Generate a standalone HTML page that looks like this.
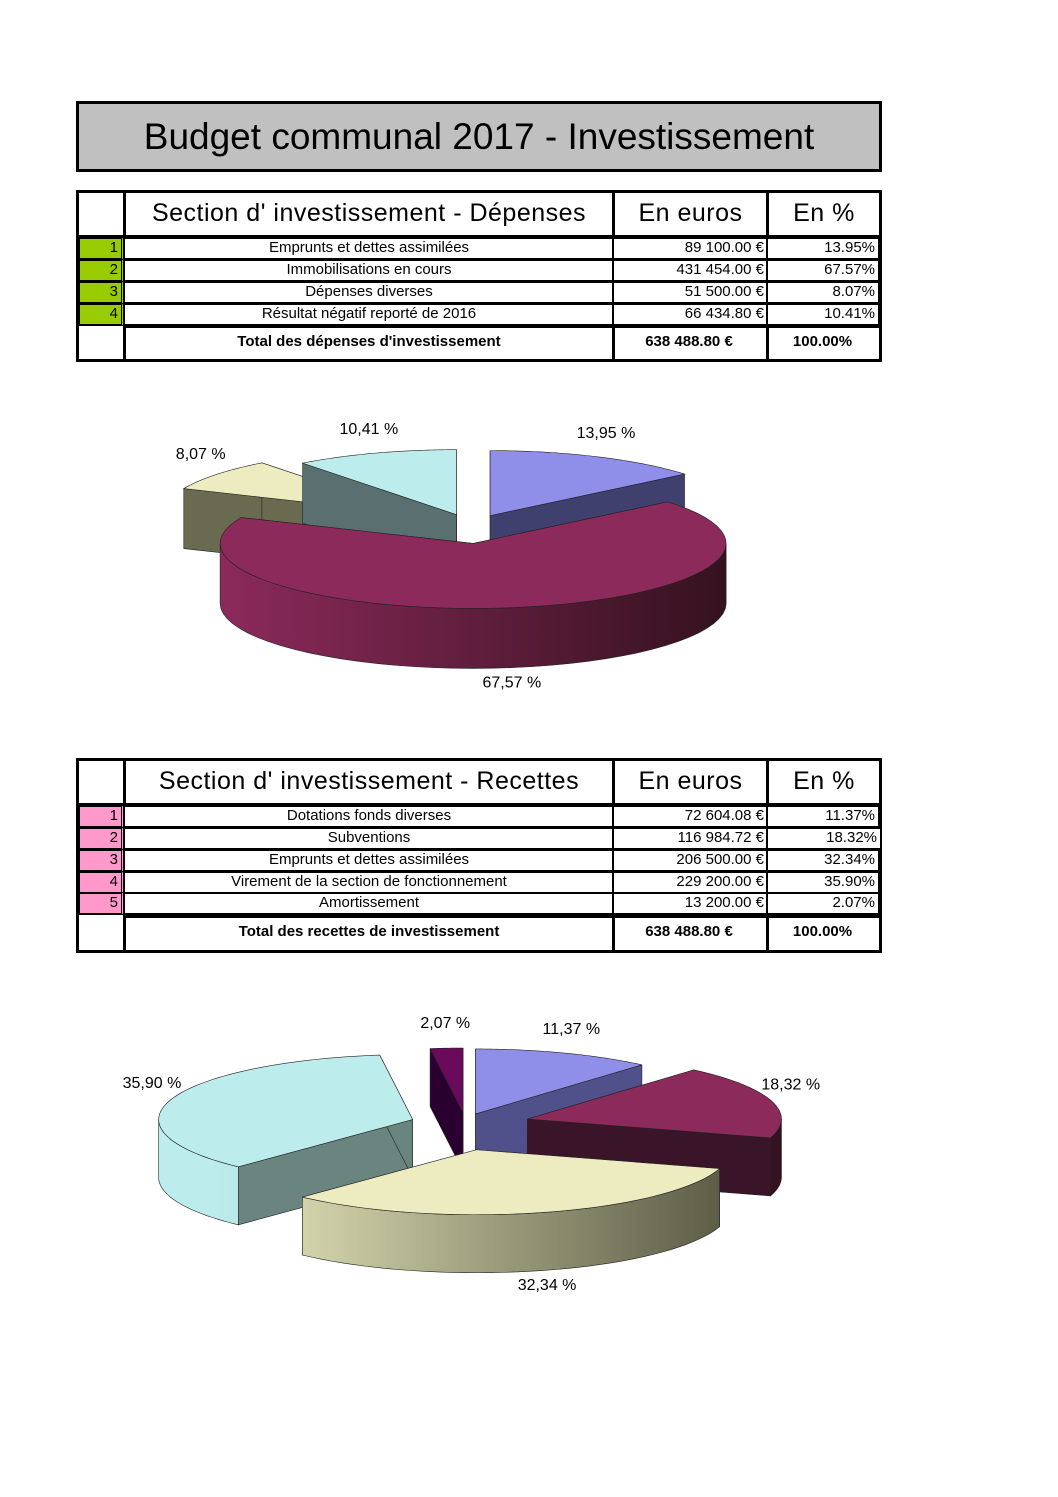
<!DOCTYPE html>
<html><head><meta charset="utf-8">
<style>
body{margin:0;background:#fff;}
#page{position:relative;width:1058px;height:1497px;overflow:hidden;background:#fff;font-family:"Liberation Sans",sans-serif;}
.c{position:absolute;box-sizing:border-box;border:2px solid #000;background:#fff;white-space:nowrap;overflow:hidden;}
.h{font-size:25px;line-height:40px;text-align:center;letter-spacing:0.5px;}
.r{font-size:15px;line-height:18px;text-align:center;transform-origin:left;}
.n{text-align:right;padding-right:3px;font-size:15px;line-height:18px;}
.g{background:#99cc00;border-right:4px double #000;}
.p{background:#ff99cc;border-right:4px double #000;}
.e{text-align:right;padding-right:3px;}
.t{font-weight:bold;font-size:15px;line-height:28px;text-align:center;}
</style></head><body>
<div id="page">
<div class="c" style="left:76px;top:101px;width:806px;height:71px;border-width:3px;background:#c0c0c0;font-size:37px;line-height:65px;text-align:center;">Budget communal 2017 - Investissement</div>

<!-- Table 1 -->
<div>
<div class="c" style="left:76px;top:190px;width:806px;height:172px;border-width:3px;"></div>
<div class="c" style="left:76px;top:190px;width:50px;height:48px;border-width:3px;"></div>
<div class="c h" style="left:123px;top:190px;width:492px;height:48px;border-width:3px;">Section d' investissement - Dépenses</div>
<div class="c h" style="left:612px;top:190px;width:157px;height:48px;border-width:3px;">En euros</div>
<div class="c h" style="left:766px;top:190px;width:116px;height:48px;border-width:3px;">En %</div>

<div class="c n g" style="left:78px;top:237px;width:47px;height:23px;">1</div>
<div class="c r" style="left:123px;top:237px;width:492px;height:23px;">Emprunts et dettes assimilées</div>
<div class="c r e" style="left:612px;top:237px;width:157px;height:23px;">89 100.00 €</div>
<div class="c r e" style="left:766px;top:237px;width:114px;height:23px;">13.95%</div>

<div class="c n g" style="left:78px;top:259px;width:47px;height:23px;">2</div>
<div class="c r" style="left:123px;top:259px;width:492px;height:23px;">Immobilisations en cours</div>
<div class="c r e" style="left:612px;top:259px;width:157px;height:23px;">431 454.00 €</div>
<div class="c r e" style="left:766px;top:259px;width:114px;height:23px;">67.57%</div>

<div class="c n g" style="left:78px;top:281px;width:47px;height:23px;">3</div>
<div class="c r" style="left:123px;top:281px;width:492px;height:23px;">Dépenses diverses</div>
<div class="c r e" style="left:612px;top:281px;width:157px;height:23px;">51 500.00 €</div>
<div class="c r e" style="left:766px;top:281px;width:114px;height:23px;">8.07%</div>

<div class="c n g" style="left:78px;top:303px;width:47px;height:23px;">4</div>
<div class="c r" style="left:123px;top:303px;width:492px;height:23px;">Résultat négatif reporté de 2016</div>
<div class="c r e" style="left:612px;top:303px;width:157px;height:23px;">66 434.80 €</div>
<div class="c r e" style="left:766px;top:303px;width:114px;height:23px;">10.41%</div>

<div class="c t" style="left:123px;top:325px;width:492px;height:37px;border-width:3px;">Total des dépenses d'investissement</div>
<div class="c t e" style="left:612px;top:325px;width:157px;height:37px;border-width:3px;">638 488.80 €</div>
<div class="c t e" style="left:766px;top:325px;width:116px;height:37px;border-width:3px;">100.00%</div>
</div>

<!-- Table 2 -->
<div>
<div class="c" style="left:76px;top:758px;width:806px;height:195px;border-width:3px;"></div>
<div class="c" style="left:76px;top:758px;width:50px;height:48px;border-width:3px;"></div>
<div class="c h" style="left:123px;top:758px;width:492px;height:48px;border-width:3px;">Section d' investissement - Recettes</div>
<div class="c h" style="left:612px;top:758px;width:157px;height:48px;border-width:3px;">En euros</div>
<div class="c h" style="left:766px;top:758px;width:116px;height:48px;border-width:3px;">En %</div>

<div class="c n p" style="left:78px;top:805px;width:47px;height:23px;">1</div>
<div class="c r" style="left:123px;top:805px;width:492px;height:23px;">Dotations fonds diverses</div>
<div class="c r e" style="left:612px;top:805px;width:157px;height:23px;">72 604.08 €</div>
<div class="c r e" style="left:766px;top:805px;width:114px;height:23px;">11.37%</div>

<div class="c n p" style="left:78px;top:827px;width:47px;height:23px;">2</div>
<div class="c r" style="left:123px;top:827px;width:492px;height:23px;">Subventions</div>
<div class="c r e" style="left:612px;top:827px;width:157px;height:23px;">116 984.72 €</div>
<div class="c r e" style="left:766px;top:827px;width:116px;height:23px;">18.32%</div>

<div class="c n p" style="left:78px;top:849px;width:47px;height:23px;">3</div>
<div class="c r" style="left:123px;top:849px;width:492px;height:23px;">Emprunts et dettes assimilées</div>
<div class="c r e" style="left:612px;top:849px;width:157px;height:23px;">206 500.00 €</div>
<div class="c r e" style="left:766px;top:849px;width:114px;height:23px;">32.34%</div>

<div class="c n p" style="left:78px;top:871px;width:47px;height:23px;">4</div>
<div class="c r" style="left:123px;top:871px;width:492px;height:23px;">Virement de la section de fonctionnement</div>
<div class="c r e" style="left:612px;top:871px;width:157px;height:23px;">229 200.00 €</div>
<div class="c r e" style="left:766px;top:871px;width:114px;height:23px;">35.90%</div>

<div class="c n p" style="left:78px;top:892px;width:47px;height:23px;">5</div>
<div class="c r" style="left:123px;top:892px;width:492px;height:23px;">Amortissement</div>
<div class="c r e" style="left:612px;top:892px;width:157px;height:23px;">13 200.00 €</div>
<div class="c r e" style="left:766px;top:892px;width:114px;height:23px;">2.07%</div>

<div class="c t" style="left:123px;top:915px;width:492px;height:38px;border-width:3px;">Total des recettes de investissement</div>
<div class="c t e" style="left:612px;top:915px;width:157px;height:38px;border-width:3px;">638 488.80 €</div>
<div class="c t e" style="left:766px;top:915px;width:116px;height:38px;border-width:3px;">100.00%</div>
</div>

<svg id="chart" width="1058" height="1497" style="position:absolute;left:0;top:0;"></svg>
</div>
<script>
// Chart 1 data (dépenses)
const cats1 = ["Emprunts et dettes assimilées","Immobilisations en cours","Dépenses diverses","Résultat négatif reporté de 2016"];
const vals1 = [13.95, 67.57, 8.07, 10.41];
// Chart 2 data (recettes)
const cats2 = ["Dotations fonds diverses","Subventions","Emprunts et dettes assimilées","Virement de la section de fonctionnement","Amortissement"];
const vals2 = [11.37, 18.32, 32.34, 35.90, 2.07];

const NS = "http://www.w3.org/2000/svg";
const svg = document.getElementById('chart');
const defs = document.createElementNS(NS,'defs');
svg.appendChild(defs);
let gid = 0;
function mk(tag, attrs, parent){
  const e = document.createElementNS(NS, tag);
  for (const k in attrs) e.setAttribute(k, attrs[k]);
  (parent||svg).appendChild(e);
  return e;
}
function grad(c1, c2, x1, x2){
  const id = 'g'+(gid++);
  const g = mk('linearGradient',{id:id,gradientUnits:'userSpaceOnUse',x1:x1,y1:0,x2:x2,y2:0},defs);
  mk('stop',{offset:'0',['stop-color']:c1},g);
  mk('stop',{offset:'1',['stop-color']:c2},g);
  return 'url(#'+id+')';
}
function fmt(v){ return v.toFixed(2).replace('.',',') + ' %'; }

function pie3d(name, vals, cats, cfg){
  const total = vals.reduce((a,b)=>a+b,0);
  const {cx, cy, rx, ry, depth, styles, explode} = cfg;
  const slices = [];
  let acc = 0;
  vals.forEach((v,i)=>{
    const a0 = -Math.PI/2 + acc/total*2*Math.PI;
    acc += v;
    const a1 = -Math.PI/2 + acc/total*2*Math.PI;
    const m = (a0+a1)/2;
    const e = explode[i];
    const ox = cx + e*Math.cos(m), oy = cy + e*Math.sin(m)*0.5;
    slices.push({i, v, a0, a1, m, ox, oy});
  });
  const grp = mk('g',{});
  
  
  const order = slices.slice().sort((a,b)=>a.oy-b.oy);
  const P = (s,t,dy)=>[s.ox+rx*Math.cos(t), s.oy+ry*Math.sin(t)+(dy||0)];
  order.forEach(s=>{
    const st = styles[s.i];
    const g = mk('g',{},grp);
    
    
    // radial walls
    [s.a0, s.a1].forEach(t=>{
      const p = P(s,t);
      const d = `M${s.ox},${s.oy} L${p[0]},${p[1]} L${p[0]},${p[1]+depth} L${s.ox},${s.oy+depth} Z`;
      const w = mk('path',{d, fill:st.wall, stroke:'#222','stroke-width':0.6},g);
      
      
    });
    // outer wall (front half 0..PI, normalized)
    const segs = [];
    for (let k=-1;k<=1;k++){
      const lo = Math.max(s.a0, k*2*Math.PI), hi = Math.min(s.a1, k*2*Math.PI+Math.PI);
      if (hi>lo) segs.push([lo,hi]);
    }
    segs.forEach(([lo,hi])=>{
      const N=40; let d='';
      for(let j=0;j<=N;j++){const p=P(s,lo+(hi-lo)*j/N); d+=(j?'L':'M')+p[0]+','+p[1];}
      for(let j=N;j>=0;j--){const p=P(s,lo+(hi-lo)*j/N,depth); d+='L'+p[0]+','+p[1];}
      d+='Z';
      const w = mk('path',{d, fill:grad(st.side1, st.side2, cx-rx, cx+rx), stroke:'#222','stroke-width':0.6},g);
      
      
    });
    // top
    const N=60; let d=`M${s.ox},${s.oy}`;
    for(let j=0;j<=N;j++){const p=P(s,s.a0+(s.a1-s.a0)*j/N); d+='L'+p[0]+','+p[1];}
    d+='Z';
    const top = mk('path',{d, fill:st.top, stroke:'#222','stroke-width':0.6},g);
    
    
  });
  // labels
  slices.forEach(s=>{
    const c = Math.cos(s.m), sn = Math.sin(s.m);
    let lx = s.ox + (rx+cfg.lpad)*c;
    let ly = s.oy + (ry+cfg.lpad*0.6)*sn + (sn>0?depth+8:-8);
    const t = mk('text',{x:lx, y:ly, 'font-size':16, 'font-family':'Liberation Sans, sans-serif', fill:'#000','text-anchor':'middle'},grp);
    t.textContent = fmt(s.v);
    
    
  });
}

pie3d('depenses-pie', vals1, cats1, {
  cx:471, cy:536, rx:253, ry:65, depth:60, lpad:20,
  explode:[45,15,70,45],
  styles:[
    {top:'#8f8fea', wall:'#40406e', side1:'#505090', side2:'#353560'},
    {top:'#8c2a5b', wall:'#3a1428', side1:'#8c2a5b', side2:'#35121f'},
    {top:'#ececc0', wall:'#6a6a50', side1:'#70705a', side2:'#5a5a48'},
    {top:'#bdecec', wall:'#5a7070', side1:'#6a8a88', side2:'#506866'}
  ]
});
pie3d('recettes-pie', vals2, cats2, {
  cx:465, cy:1128, rx:254, ry:65, depth:58, lpad:20,
  explode:[30,65,45,55,30],
  styles:[
    {top:'#8f8fea', wall:'#50508a', side1:'#50508a', side2:'#3a3a70'},
    {top:'#8c2a5b', wall:'#3a1428', side1:'#4a1a30', side2:'#35121f'},
    {top:'#ececc0', wall:'#6a6a50', side1:'#ececc0', side2:'#5e5e48'},
    {top:'#bdecec', wall:'#6a8480', side1:'#bdecec', side2:'#7a9a98'},
    {top:'#6a0a5a', wall:'#2a0030', side1:'#2a0030', side2:'#2a0030'}
  ]
});
</script>
</body></html>
